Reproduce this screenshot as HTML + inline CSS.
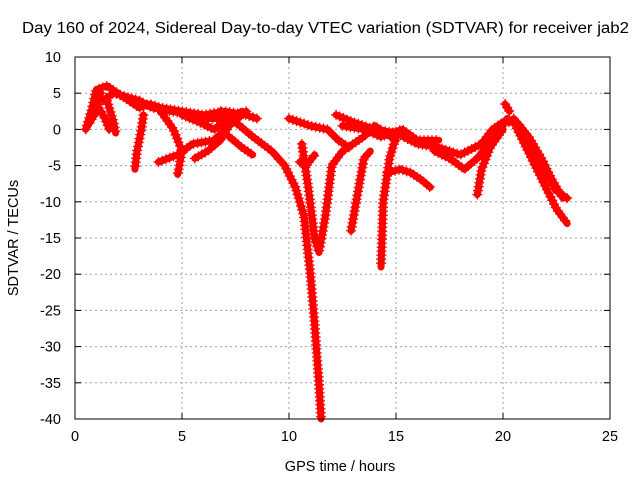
<!DOCTYPE html>
<html><head><meta charset="utf-8"><style>
body{margin:0;background:#fff}
svg{display:block;font-family:"Liberation Sans",sans-serif}
</style></head><body>
<svg id="chart" width="640" height="480">
<text x="22" y="33" font-size="15.5" textLength="607" lengthAdjust="spacingAndGlyphs">Day 160 of 2024, Sidereal Day-to-day VTEC variation (SDTVAR) for receiver jab2</text>
<text x="340" y="471" text-anchor="middle" font-size="14.5">GPS time / hours</text>
<text transform="translate(18,238) rotate(-90)" text-anchor="middle" font-size="14.5">SDTVAR / TECUs</text>
<g id="grid"></g><g id="ticks"></g><g id="marks"></g>
<rect x="75" y="57" width="535" height="362" fill="none" stroke="#000" stroke-width="1"/>
</svg>
<script>
const xTicks=[0,5,10,15,20,25];
const yTicks=[10,5,0,-5,-10,-15,-20,-25,-30,-35,-40];
const track1=[[0.5,0],[0.8,3],[1.0,5.5],[1.5,6],[2,5],[2.5,4],[3,3],[3.5,3.5],[4,3],[5,2.5],[6,2],[7,2.5],[8,2],[8.5,1.5]];
const track2=[[1.5,4],[1.8,1],[1.9,-0.5]];
const track3=[[1.2,5],[0.9,2],[0.6,0.5]];
const track4=[[3.2,2],[3.1,0],[2.9,-3],[2.8,-5.5]];
const track5=[[4,2.5],[4.6,0],[5,-3],[4.8,-6.2]];
const track6=[[3.9,-4.5],[4.8,-3.5],[5.5,-2],[6.5,-1.5],[7.2,0.5],[8,2.5]];
const track7=[[5.6,-4],[6.2,-3],[6.8,-1.5],[7.3,1],[7.8,2.5]];
const track8=[[6.8,2.5],[7.5,1],[8.3,-1],[9.2,-3],[9.8,-5],[10.3,-8],[10.7,-12],[11,-20],[11.2,-27],[11.4,-35],[11.5,-40]];
const track9=[[7.2,-1],[7.8,-2.5],[8.3,-3.5]];
const track10=[[10,1.5],[11,0.5],[11.8,0],[12.3,-1.5],[12.8,-2.5]];
const track11=[[10.6,-2],[10.9,-8],[11.2,-15],[11.4,-17],[11.7,-12],[12,-5],[12.5,-3],[13,-2],[13.5,-1],[14,0.5],[14.5,-0.5],[15,-1.5]];
const track12=[[12.2,2],[13,1],[14,0],[15,-0.5],[16,-2],[17,-2.5],[18,-3.5],[19,-2],[19.5,0],[20,1],[20.5,1],[21,-2],[21.5,-5],[22,-8],[22.5,-11],[23,-13]];
const track13=[[10.5,-4.5],[10.8,-5],[11.2,-3.5]];
const track14=[[12.9,-14],[13.2,-9],[13.5,-4],[13.8,-3]];
const track15=[[15,-1],[14.7,-4],[14.4,-10],[14.3,-19]];
const track16=[[14.6,-6],[15.2,-5.5],[15.7,-6],[16.2,-7],[16.6,-8]];
const track17=[[16.8,-3],[17.5,-4],[18.2,-5.5],[18.8,-4],[19.5,-1.5],[20.2,1.5],[20.8,0.5],[21.5,-3],[22,-6],[22.5,-8.5],[23,-9.5]];
const track18=[[18.8,-9],[19,-5.5],[19.4,-2.5],[20,0]];
const track19=[[20.1,3.5],[20.3,2.5]];
const track20=[[1.3,4],[1.8,5],[2.4,4.5],[3,4],[3.6,3],[4.5,2.5],[5.5,2],[6.2,1.5],[7,1.5]];
const track21=[[1.1,3],[1.4,1.5],[1.6,0]];
const track22=[[5,2],[5.8,1],[6.5,0],[7,1],[7.5,2]];
const track23=[[12.5,0.5],[13.5,0],[14.3,-1],[15.3,0],[16,-1.5],[17,-1.5]];
const track24=[[20.5,1.5],[21.2,-1],[21.8,-4],[22.3,-7],[22.8,-9.5]];
const tracks=[track1,track2,track3,track4,track5,track6,track7,track8,track9,track10,track11,track12,track13,track14,track15,track16,track17,track18,track19,track20,track21,track22,track23,track24];
const X0=75,X1=610,Y0=419,Y1=57;
const sx=v=>X0+(v-0)/(25-0)*(X1-X0);
const sy=v=>Y0-(v-(-40))/(10-(-40))*(Y0-Y1);
const NS='http://www.w3.org/2000/svg';
const grid=document.getElementById('grid'),ticks=document.getElementById('ticks'),marks=document.getElementById('marks');
function mk(tag,attrs,parent){const e=document.createElementNS(NS,tag);for(const k in attrs)e.setAttribute(k,attrs[k]);parent.appendChild(e);return e;}
xTicks.forEach(t=>{
  const x=sx(t);
  if(t>0&&t<25){const l=mk('line',{x1:x,x2:x,y1:Y1,y2:Y0,stroke:'#a0a0a0','stroke-dasharray':'2,3'},grid);
  
  }
  mk('line',{x1:x,x2:x,y1:Y0,y2:Y0-6,stroke:'#000'},ticks);
  mk('line',{x1:x,x2:x,y1:Y1,y2:Y1+6,stroke:'#000'},ticks);
  const tx=mk('text',{x:x,y:Y0+22,'text-anchor':'middle','font-size':'14.5'},ticks);
  tx.textContent=t;
  
  
});
yTicks.forEach(t=>{
  const y=sy(t);
  if(t>-40&&t<10){const l=mk('line',{x1:X0,x2:X1,y1:y,y2:y,stroke:'#a0a0a0','stroke-dasharray':'2,3'},grid);
  
  }
  mk('line',{x1:X0,x2:X0+6,y1:y,y2:y,stroke:'#000'},ticks);
  mk('line',{x1:X1,x2:X1-6,y1:y,y2:y,stroke:'#000'},ticks);
  const tx=mk('text',{x:X0-14,y:y+5,'text-anchor':'end','font-size':'14.5'},ticks);
  tx.textContent=t;
  
  
});
tracks.forEach((tr,i)=>{
  const pts=tr.map(p=>sx(p[0])+','+sy(p[1])).join(' ');
  const pl=mk('polyline',{points:pts,fill:'none',stroke:'#ff0000','stroke-width':7,'stroke-linejoin':'round','stroke-linecap':'round'},marks);
  
  
  const len=pl.getTotalLength();
  for(let d=0;d<=len;d+=4){
    const p=pl.getPointAtLength(d);
    mk('path',{d:`M${p.x-5},${p.y}h10M${p.x},${p.y-5}v10`,stroke:'#ff0000','stroke-width':1.3},marks);
  }
});
</script>
</body></html>
